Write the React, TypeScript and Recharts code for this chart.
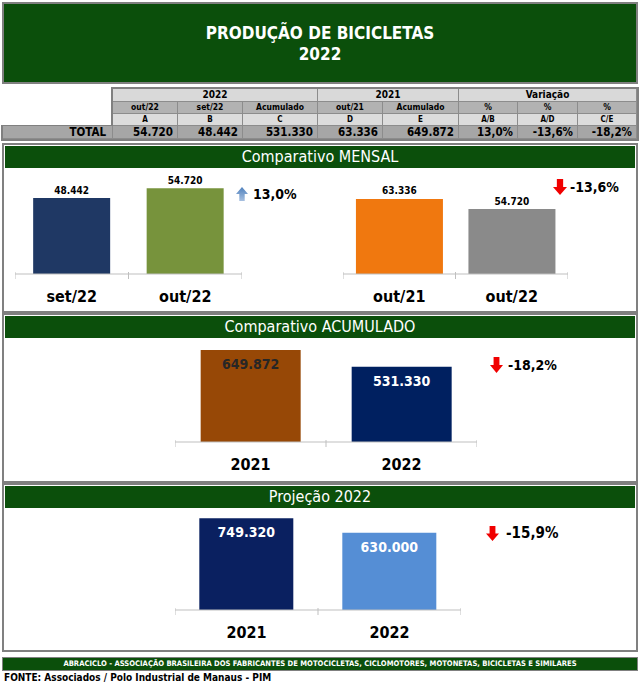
import React from "react";
import { BarChart, Bar, XAxis, YAxis, Cell, LabelList } from "recharts";

const FONT = '"DejaVu Sans Condensed", "DejaVu Sans", Verdana, sans-serif';
const GREEN = "#0b4f0b";
const FRAME = "#808080";

// summary table
const groupHeaders = ["2022", "2021", "Variação"];
const groupSpans = [3, 2, 3];
const columnHeaders = ["out/22", "set/22", "Acumulado", "out/21", "Acumulado", "%", "%", "%"];
const columnLetters = ["A", "B", "C", "D", "E", "A/B", "A/D", "C/E"];
const totalValues = [54720, 48442, 531330, 63336, 649872];
const totalVariations = ["13,0%", "-13,6%", "-18,2%"];

// charts
const monthlyCategories = ["set/22", "out/22"];
const monthlyValues = [48442, 54720];
const monthlyColors = ["#1f3864", "#77933c"];

const yoyCategories = ["out/21", "out/22"];
const yoyValues = [63336, 54720];
const yoyColors = ["#f0780f", "#8a8a8a"];

const cumulativeCategories = ["2021", "2022"];
const cumulativeValues = [649872, 531330];
const cumulativeColors = ["#974806", "#002060"];
const cumulativeLabelColors = ["#262626", "#ffffff"];

const projectionCategories = ["2021", "2022"];
const projectionValues = [749320, 630000];
const projectionColors = ["#0a2060", "#558ed5"];
const projectionLabelColors = ["#ffffff", "#ffffff"];

const variations = ["13,0%", "-13,6%", "-18,2%", "-15,9%"];

const colEdges = [113, 178, 243, 318, 383, 459, 518, 578, 637];

const fmt = (v: number) => String(v).replace(/\B(?=(\d{3})+(?!\d))/g, ".");

function EdgeTick(props: any) {
  const { x, y, payload, index, half, count } = props;
  return (
    <g>
      <line x1={x - half} x2={x - half} y1={y - 2} y2={y + 5} stroke="#bfbfbf" />
      {index === count - 1 && <line x1={x + half} x2={x + half} y1={y - 2} y2={y + 5} stroke="#bfbfbf" />}
      <text x={x} y={y + 22} textAnchor="middle" dominantBaseline="central" fontFamily={FONT} fontWeight="bold" fontSize={16} fill="#000">
        {payload.value}
      </text>
    </g>
  );
}

type ChartProps = {
  categories: string[];
  values: number[];
  colors: string[];
  labelColors?: string[];
  left: number;
  top: number;
  width: number;
  plotTop: number;
  plotHeight: number;
  max: number;
  gap: string;
  inside?: boolean;
};

function MiniChart({ categories, values, colors, labelColors, left, top, width, plotTop, plotHeight, max, gap, inside }: ChartProps) {
  const data = categories.map((c, i) => ({ name: c, value: values[i] }));
  const axisHeight = 40;
  const half = width / categories.length / 2;
  const renderLabel = (p: any) => {
    const cx = p.x + p.width / 2;
    const color = labelColors ? labelColors[p.index] : "#000";
    if (inside) {
      return (
        <text x={cx} y={p.y + 14} textAnchor="middle" dominantBaseline="central" fontFamily={FONT} fontWeight="bold" fontSize={14} fill={color}>
          {fmt(p.value)}
        </text>
      );
    }
    return (
      <text x={cx} y={p.y - 8} textAnchor="middle" dominantBaseline="central" fontFamily={FONT} fontWeight="bold" fontSize={10} fill="#000">
        {fmt(p.value)}
      </text>
    );
  };
  return (
    <div style={{ position: "absolute", left, top }}>
      <BarChart
        width={width}
        height={plotTop + plotHeight + axisHeight}
        data={data}
        margin={{ top: plotTop, right: 0, bottom: 0, left: 0 }}
        barCategoryGap={gap}
      >
        <XAxis
          dataKey="name"
          height={axisHeight}
          axisLine={{ stroke: "#bfbfbf" }}
          tickLine={false}
          tickSize={0}
          tickMargin={0}
          interval={0}
          tick={(p: any) => <EdgeTick {...p} half={half} count={categories.length} />}
        />
        <YAxis hide domain={[0, max]} />
        <Bar dataKey="value" isAnimationActive={false}>
          {data.map((d, i) => (
            <Cell key={d.name} fill={colors[i]} />
          ))}
          <LabelList dataKey="value" content={renderLabel} />
        </Bar>
      </BarChart>
    </div>
  );
}

function Arrow({ left, top, up, w, h }: { left: number; top: number; up?: boolean; w: number; h: number }) {
  const shaft = w * 0.45;
  const head = h * 0.5;
  const pts = up
    ? `${w / 2},0 ${w},${head} ${w / 2 + shaft / 2},${head} ${w / 2 + shaft / 2},${h} ${w / 2 - shaft / 2},${h} ${w / 2 - shaft / 2},${head} 0,${head}`
    : `${w / 2 - shaft / 2},0 ${w / 2 + shaft / 2},0 ${w / 2 + shaft / 2},${h - head} ${w},${h - head} ${w / 2},${h} 0,${h - head} ${w / 2 - shaft / 2},${h - head}`;
  return (
    <svg style={{ position: "absolute", left, top }} width={w} height={h}>
      <defs>
        <linearGradient id="upg" x1="0" y1="0" x2="0" y2="1">
          <stop offset="0" stopColor="#4f81bd" />
          <stop offset="1" stopColor="#a7c0e0" />
        </linearGradient>
      </defs>
      <polygon points={pts} fill={up ? "url(#upg)" : "#f00000"} />
    </svg>
  );
}

function VarText({ left, cy, text, size = 14 }: { left: number; cy: number; text: string; size?: number }) {
  return (
    <div style={{ position: "absolute", left, top: cy - 10, height: 20, lineHeight: "20px", fontFamily: FONT, fontWeight: "bold", fontSize: size, color: "#000", whiteSpace: "nowrap" }}>
      {text}
    </div>
  );
}

function Section({ top, bottom, title }: { top: number; bottom: number; title: string }) {
  return (
    <div style={{ position: "absolute", left: 2, top, width: 636, height: bottom - top, boxSizing: "border-box", border: `2px solid ${FRAME}`, background: "#fff" }}>
      <div style={{ position: "absolute", left: 1, right: 1, top: 1, height: 22, background: GREEN, color: "#fff", fontFamily: FONT, fontSize: 16, lineHeight: "22px", textAlign: "center" }}>
        {title}
      </div>
    </div>
  );
}

function Cellbox({ left, top, width, height, bg, children, size, align = "center", pad = 0 }: any) {
  return (
    <div
      style={{
        position: "absolute", left, top, width, height, boxSizing: "border-box", background: bg,
        borderRight: "1px solid #8c8c8c", borderBottom: "1px solid #8c8c8c",
        fontFamily: FONT, fontWeight: "bold", fontSize: size, lineHeight: `${height - 1}px`,
        textAlign: align, paddingRight: pad, color: "#000", whiteSpace: "nowrap", overflow: "hidden",
      }}
    >
      {children}
    </div>
  );
}

function SummaryTable() {
  const rows = [89, 102, 114, 126, 139];
  const cells: React.ReactNode[] = [];
  let c = 0;
  groupHeaders.forEach((g, gi) => {
    const l = colEdges[c];
    const r = colEdges[c + groupSpans[gi]];
    cells.push(<Cellbox key={"g" + gi} left={l} top={rows[0]} width={r - l} height={rows[1] - rows[0]} bg="#d9d9d9" size={10}>{g}</Cellbox>);
    c += groupSpans[gi];
  });
  columnHeaders.forEach((h, i) => {
    const l = colEdges[i];
    const w = colEdges[i + 1] - l;
    cells.push(<Cellbox key={"h" + i} left={l} top={rows[1]} width={w} height={rows[2] - rows[1]} bg="#b2b2b2" size={8.5}>{h}</Cellbox>);
    cells.push(<Cellbox key={"l" + i} left={l} top={rows[2]} width={w} height={rows[3] - rows[2]} bg="#dcdcdc" size={8}>{columnLetters[i]}</Cellbox>);
    const v = i < totalValues.length ? fmt(totalValues[i]) : totalVariations[i - totalValues.length];
    cells.push(<Cellbox key={"v" + i} left={l} top={rows[3]} width={w} height={rows[4] - rows[3]} bg="#a6a6a6" size={11.5} align="right" pad={4}>{v}</Cellbox>);
  });
  return (
    <>
      <div style={{ position: "absolute", left: colEdges[0] - 2, top: rows[0] - 2, width: 637 - colEdges[0] + 4, height: rows[3] - rows[0] + 2, background: FRAME }} />
      <div style={{ position: "absolute", left: 1, top: rows[3] - 1, width: 638, height: rows[4] - rows[3] + 3, background: FRAME }} />
      <Cellbox left={3} top={rows[3]} width={colEdges[0] - 3} height={rows[4] - rows[3]} bg="#a6a6a6" size={11.5} align="right" pad={6}>TOTAL</Cellbox>
      {cells}
    </>
  );
}

export default function App() {
  return (
    <div style={{ position: "absolute", left: 0, top: 0, width: 640, height: 684, background: "#fff", overflow: "hidden" }}>
      <div style={{ position: "absolute", left: 2, top: 2, width: 636, height: 82, boxSizing: "border-box", border: `2px solid ${FRAME}`, background: GREEN, color: "#fff", fontFamily: FONT, fontWeight: "bold", fontSize: 17, textAlign: "center", lineHeight: "21px", paddingTop: 19 }}>
        <div>PRODUÇÃO DE BICICLETAS</div>
        <div>2022</div>
      </div>

      <SummaryTable />

      <Section top={143} bottom={313} title="Comparativo MENSAL" />
      <Section top={313} bottom={483} title="Comparativo ACUMULADO" />
      <Section top={483} bottom={652} title="Projeção 2022" />

      <MiniChart categories={monthlyCategories} values={monthlyValues} colors={monthlyColors} left={15} top={145} width={227} plotTop={35} plotHeight={94} max={60000} gap="16%" />
      <MiniChart categories={yoyCategories} values={yoyValues} colors={yoyColors} left={343} top={145} width={225} plotTop={46} plotHeight={83} max={70000} gap="11.5%" />
      <MiniChart categories={cumulativeCategories} values={cumulativeValues} colors={cumulativeColors} labelColors={cumulativeLabelColors} inside left={175} top={315} width={302} plotTop={28} plotHeight={99} max={700000} gap="17%" />
      <MiniChart categories={projectionCategories} values={projectionValues} colors={projectionColors} labelColors={projectionLabelColors} inside left={175} top={485} width={286} plotTop={27} plotHeight={98} max={800000} gap="17%" />

      <Arrow left={236} top={187} up w={12} h={14} />
      <VarText left={253} cy={194} text={variations[0]} />
      <Arrow left={553} top={179} w={14} h={16} />
      <VarText left={570} cy={187} text={variations[1]} />
      <Arrow left={490} top={357} w={13} h={16} />
      <VarText left={508} cy={365} text={variations[2]} />
      <Arrow left={486} top={526} w={13} h={15} />
      <VarText left={506} cy={533} text={variations[3]} size={15} />

      <div style={{ position: "absolute", left: 2, top: 657, width: 636, height: 14, boxSizing: "border-box", border: `1px solid ${FRAME}`, background: GREEN, color: "#fff", fontFamily: FONT, fontWeight: "bold", fontSize: 7.6, lineHeight: "12px", textAlign: "center", whiteSpace: "nowrap" }}>
        ABRACICLO - ASSOCIAÇÃO BRASILEIRA DOS FABRICANTES DE MOTOCICLETAS, CICLOMOTORES, MOTONETAS, BICICLETAS E SIMILARES
      </div>
      <div style={{ position: "absolute", left: 4, top: 671, height: 14, lineHeight: "14px", fontFamily: FONT, fontWeight: "bold", fontSize: 10, color: "#000", whiteSpace: "nowrap" }}>
        FONTE: Associados / Polo Industrial de Manaus - PIM
      </div>
    </div>
  );
}
